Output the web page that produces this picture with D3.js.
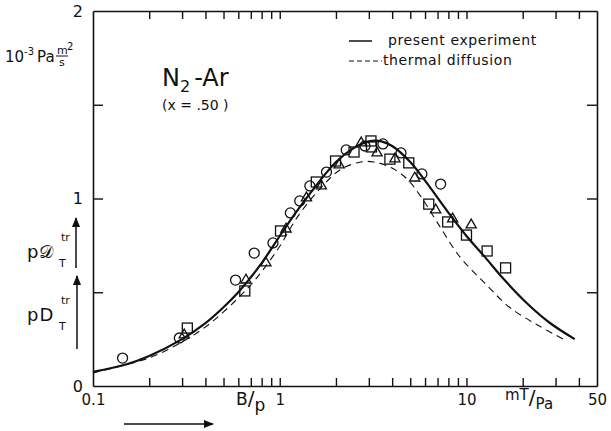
<!DOCTYPE html>
<html>
<head>
<meta charset="utf-8">
<script src="https://cdn.jsdelivr.net/npm/d3@7"></script>
<style>
  body { margin: 0; background: #fff; }
  text { font-family: "DejaVu Sans", sans-serif; fill: #111; }
</style>
</head>
<body>
<div id="chart"></div>
<script>
// data (x in mT/Pa, y in 10^-3 Pa m2/s)
var expX = [0.1, 0.15, 0.2, 0.3, 0.4, 0.5, 0.6, 0.7, 0.8, 1.0, 1.2, 1.5, 2.0, 2.5, 3.0, 3.5, 4.0, 5.0, 6.0, 8.0, 10, 12.5, 16, 21, 28, 38];
var expY = [0.075, 0.115, 0.16, 0.25, 0.335, 0.42, 0.5, 0.58, 0.655, 0.8, 0.915, 1.045, 1.195, 1.27, 1.305, 1.305, 1.28, 1.195, 1.095, 0.925, 0.8, 0.69, 0.565, 0.443, 0.336, 0.25];

var tdX = [0.1, 0.2, 0.3, 0.4, 0.5, 0.6, 0.7, 0.8, 1.0, 1.25, 1.67, 2.12, 2.73, 3.2, 3.94, 4.8, 5.7, 7.0, 9.2, 12.5, 17, 24, 33];
var tdY = [0.07, 0.15, 0.235, 0.315, 0.395, 0.47, 0.54, 0.61, 0.745, 0.905, 1.06, 1.155, 1.195, 1.195, 1.165, 1.105, 1.01, 0.87, 0.69, 0.55, 0.42, 0.325, 0.25];

var circX = [0.144, 0.29, 0.58, 0.73, 0.92, 1.14, 1.28, 1.45, 1.78, 2.27, 2.86, 3.57, 4.46, 5.77, 7.27];
var circY = [0.149, 0.256, 0.565, 0.709, 0.763, 0.923, 0.987, 1.067, 1.141, 1.259, 1.28, 1.291, 1.243, 1.131, 1.077];

var sqX = [0.32, 0.65, 1.01, 1.57, 1.99, 2.5, 3.08, 3.1, 3.89, 4.91, 6.28, 7.93, 10.0, 12.9, 16.2];
var sqY = [0.309, 0.507, 0.827, 1.088, 1.2, 1.248, 1.307, 1.275, 1.21, 1.19, 0.97, 0.875, 0.805, 0.72, 0.63];

var triX = [0.308, 0.659, 0.843, 1.08, 1.39, 1.67, 2.08, 2.73, 3.32, 4.14, 5.28, 6.84, 8.43, 10.6];
var triY = [0.272, 0.565, 0.656, 0.837, 1.003, 1.067, 1.179, 1.296, 1.243, 1.211, 1.109, 0.939, 0.891, 0.859];

var xTicks = [0.1, 0.2, 0.3, 0.4, 0.5, 0.6, 0.7, 0.8, 0.9, 1, 2, 3, 4, 5, 6, 7, 8, 9, 10, 20, 30, 40, 50];
var xLabels = [0.1, 1, 10, 50];
var yTicks = [0, 0.5, 1, 1.5, 2];
var yLabels = [0, 1, 2];

(function() {
var W = 611, H = 431;
var pl = 93, pr = 597, pt = 11, pb = 386;

var svg = d3.select('#chart').append('svg')
  .attr('width', W).attr('height', H);

var x = d3.scaleLog().domain([0.1, 50]).range([pl, pr]);
var y = d3.scaleLinear().domain([0, 2]).range([pb, pt]);

function zip(a, b) { return a.map(function(v, i) { return [v, b[i]]; }); }

// axes, all ticks point inward
var fmtX = function(d) { return xLabels.indexOf(d) >= 0 ? String(d) : ''; };
var fmtY = function(d) { return yLabels.indexOf(d) >= 0 ? String(d) : ''; };

svg.append('g').attr('transform', 'translate(0,' + pb + ')')
  .call(d3.axisBottom(x).tickValues(xTicks).tickFormat(fmtX).tickSize(-8).tickPadding(8).tickSizeOuter(0))
  .call(function(g) {
    g.selectAll('text').attr('font-size', 15).attr('font-family', 'DejaVu Sans').attr('fill', '#111');
    g.selectAll('.tick').filter(function(d) { return d == 0.1 || d == 50; }).select('line').remove();
  });

svg.append('g').attr('transform', 'translate(0,' + pt + ')')
  .call(d3.axisTop(x).tickValues(xTicks.slice(1, -1)).tickFormat('').tickSize(-8).tickSizeOuter(0));

svg.append('g').attr('transform', 'translate(' + pl + ',0)')
  .call(d3.axisLeft(y).tickValues(yTicks).tickFormat(fmtY).tickSize(-10).tickPadding(10).tickSizeOuter(0))
  .call(function(g) {
    g.selectAll('text').attr('font-size', 16).attr('font-family', 'DejaVu Sans').attr('fill', '#111');
    g.selectAll('.tick').filter(function(d) { return d == 0 || d == 2; }).select('line').remove();
  });

svg.append('g').attr('transform', 'translate(' + pr + ',0)')
  .call(d3.axisRight(y).tickValues([0.5, 1, 1.5]).tickFormat('').tickSize(-10).tickSizeOuter(0));

svg.selectAll('.domain').attr('stroke', '#111').attr('stroke-width', 1.6);
svg.selectAll('.tick line').attr('stroke', '#111').attr('stroke-width', 1.4);

// curves
var line = d3.line()
  .x(function(d) { return x(d[0]); })
  .y(function(d) { return y(d[1]); })
  .curve(d3.curveCatmullRom.alpha(0.5));

svg.append('path').datum(zip(tdX, tdY)).attr('d', line)
  .attr('fill', 'none').attr('stroke', '#111').attr('stroke-width', 1.1)
  .attr('stroke-dasharray', '7,5');

svg.append('path').datum(zip(expX, expY)).attr('d', line)
  .attr('fill', 'none').attr('stroke', '#111').attr('stroke-width', 2.2);

// markers
var mk = svg.append('g').attr('fill', 'none').attr('stroke', '#111').attr('stroke-width', 1.3);

mk.selectAll('circle').data(zip(circX, circY)).enter().append('circle')
  .attr('cx', function(d) { return x(d[0]); })
  .attr('cy', function(d) { return y(d[1]); })
  .attr('r', 5);

mk.selectAll('rect').data(zip(sqX, sqY)).enter().append('rect')
  .attr('x', function(d) { return x(d[0]) - 5; })
  .attr('y', function(d) { return y(d[1]) - 5; })
  .attr('width', 10).attr('height', 10);

var tri = d3.symbol().type(d3.symbolTriangle).size(45);
mk.selectAll('path.tri').data(zip(triX, triY)).enter().append('path')
  .attr('class', 'tri')
  .attr('transform', function(d) { return 'translate(' + x(d[0]) + ',' + y(d[1]) + ')'; })
  .attr('d', tri);

// legend
var lg = svg.append('g');
lg.append('line').attr('x1', 349).attr('x2', 372).attr('y1', 41).attr('y2', 41)
  .attr('stroke', '#111').attr('stroke-width', 1.5);
lg.append('line').attr('x1', 349).attr('x2', 382).attr('y1', 61).attr('y2', 61)
  .attr('stroke', '#111').attr('stroke-width', 1.2).attr('stroke-dasharray', '5,3');
lg.append('text').attr('x', 388).attr('y', 45).attr('font-size', 14).attr('letter-spacing', 0.6).text('present experiment');
lg.append('text').attr('x', 383).attr('y', 65).attr('font-size', 14).attr('letter-spacing', 0.6).text('thermal diffusion');

// title
var t = svg.append('text').attr('x', 162).attr('y', 86).attr('font-size', 24);
t.append('tspan').text('N');
t.append('tspan').attr('font-size', 16).attr('dy', 6).text('2');
t.append('tspan').attr('dy', -6).attr('dx', 4).text('-Ar');
svg.append('text').attr('x', 162).attr('y', 110).attr('font-size', 14).text('(x = .50 )');

// unit label
var u = svg.append('text').attr('x', 5).attr('y', 62).attr('font-size', 15);
u.append('tspan').text('10');
u.append('tspan').attr('font-size', 10).attr('dy', -7).text('-3');
u.append('tspan').attr('dy', 7).attr('dx', 3).text('Pa');
svg.append('text').attr('x', 57).attr('y', 54).attr('font-size', 11).text('m');
svg.append('text').attr('x', 67).attr('y', 50).attr('font-size', 10).text('2');
svg.append('text').attr('x', 59).attr('y', 66).attr('font-size', 11).text('s');
svg.append('line').attr('x1', 56).attr('x2', 68).attr('y1', 56).attr('y2', 56).attr('stroke', '#111');

// left quantity labels with arrows
function qty(yb, sym) {
  var q = svg.append('text').attr('x', 27).attr('y', yb).attr('font-size', 18);
  q.append('tspan').text('p');
  q.append('tspan').attr('dx', 1).text(sym);
  svg.append('text').attr('x', 61).attr('y', yb - 17).attr('font-size', 11).text('tr');
  svg.append('text').attr('x', 59).attr('y', yb + 9).attr('font-size', 11).text('T');
}
qty(258, '\uD835\uDC9F');
qty(321, 'D');

var defs = svg.append('defs');
defs.append('marker').attr('id', 'ah').attr('viewBox', '0 0 10 10')
  .attr('refX', 9).attr('refY', 5).attr('markerWidth', 7).attr('markerHeight', 7)
  .attr('orient', 'auto-start-reverse')
  .append('path').attr('d', 'M0,1 L10,5 L0,9 Z').attr('fill', '#111');

function arrow(x1, y1, x2, y2) {
  svg.append('line').attr('x1', x1).attr('y1', y1).attr('x2', x2).attr('y2', y2)
    .attr('stroke', '#111').attr('stroke-width', 1.5).attr('marker-end', 'url(#ah)');
}
arrow(76, 268, 76, 218);
arrow(77, 349, 77, 276);
arrow(124, 424, 213, 424);

// x unit labels
var b = svg.append('text').attr('x', 236).attr('y', 405).attr('font-size', 17);
b.append('tspan').text('B');
b.append('tspan').attr('font-size', 20).text('/');
b.append('tspan').attr('dy', 6).attr('font-size', 17).text('p');

var m = svg.append('text').attr('x', 505).attr('y', 400).attr('font-size', 15);
m.append('tspan').text('mT');
m.append('tspan').attr('font-size', 20).attr('dy', 4).text('/');
m.append('tspan').attr('dy', 5).attr('font-size', 15).text('Pa');
})();
</script>
</body>
</html>
